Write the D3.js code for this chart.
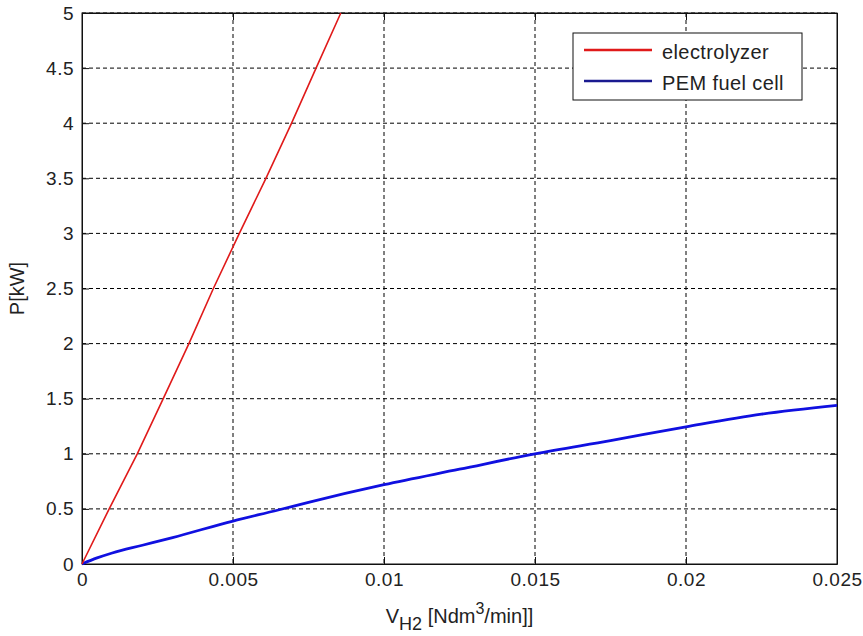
<!DOCTYPE html>
<html>
<head>
<meta charset="utf-8">
<script src="https://cdn.jsdelivr.net/npm/d3@7"></script>
<style>
  body { margin: 0; background: #fff; }
  text { font-family: "Liberation Sans", Arial, sans-serif; fill: #222; }
</style>
</head>
<body>
<div id="chart"></div>
<script>
// data
var xTicks = [0, 0.005, 0.01, 0.015, 0.02, 0.025];
var yTicks = [0, 0.5, 1, 1.5, 2, 2.5, 3, 3.5, 4, 4.5, 5];

var elecV = [0, 0.0009, 0.00183, 0.00269, 0.00354, 0.00435, 0.00521, 0.00609, 0.00694, 0.00775, 0.00857];
var elecP = [0, 0.5, 1, 1.5, 2, 2.5, 3, 3.5, 4, 4.5, 5];

var pemV = [0, 0.0005, 0.001, 0.002, 0.003, 0.005, 0.0065, 0.0075, 0.01, 0.0125, 0.015, 0.0175, 0.02, 0.0225, 0.025];
var pemP = [0, 0.055, 0.10, 0.17, 0.24, 0.39, 0.49, 0.56, 0.72, 0.86, 1.0, 1.12, 1.245, 1.36, 1.44];

var legendNames = ["electrolyzer", "PEM fuel cell"];
var legendColors = ["#e01a1a", "#1a1a90"];

var W = 863, H = 636;
var pLeft = 82, pRight = 837, pTop = 13, pBottom = 564;

const svg = d3.select("#chart")
  .append("svg")
  .attr("width", W)
  .attr("height", H);

var x = d3.scaleLinear().domain([0, 0.025]).range([pLeft, pRight]);
var y = d3.scaleLinear().domain([0, 5]).range([pBottom, pTop]);

// grid
var grid = svg.append("g");
grid.selectAll(".gx")
  .data(xTicks.slice(1, -1))
  .join("line")
  .attr("x1", d => x(d)).attr("x2", d => x(d))
  .attr("y1", pTop).attr("y2", pBottom)
  .attr("stroke", "#000").attr("stroke-dasharray", "4,3");
grid.selectAll(".gy")
  .data(yTicks.slice(1))
  .join("line")
  .attr("x1", pLeft).attr("x2", pRight)
  .attr("y1", d => y(d)).attr("y2", d => y(d))
  .attr("stroke", "#000").attr("stroke-dasharray", "4,3");

// axes with inward ticks
function fmt(d) { return d3.format("")(d); }
svg.append("g").attr("transform", "translate(0," + pBottom + ")")
  .call(d3.axisBottom(x).tickValues(xTicks).tickSizeInner(-7).tickSizeOuter(0).tickPadding(9).tickFormat(fmt));
svg.append("g").attr("transform", "translate(0," + pTop + ")")
  .call(d3.axisTop(x).tickValues(xTicks).tickSizeInner(-7).tickSizeOuter(0).tickFormat(""));
svg.append("g").attr("transform", "translate(" + pLeft + ",0)")
  .call(d3.axisLeft(y).tickValues(yTicks).tickSizeInner(-7).tickSizeOuter(0).tickPadding(8).tickFormat(fmt));
svg.append("g").attr("transform", "translate(" + pRight + ",0)")
  .call(d3.axisRight(y).tickValues(yTicks).tickSizeInner(-7).tickSizeOuter(0).tickFormat(""));

svg.selectAll(".domain").attr("stroke", "#111");
svg.selectAll(".tick line").attr("stroke", "#111");
svg.selectAll(".tick text")
  .attr("font-family", "Liberation Sans, Arial, sans-serif")
  .attr("font-size", 19)
  .attr("letter-spacing", "0.5px")
  .attr("fill", "#222");

// box
svg.append("rect")
  .attr("x", pLeft).attr("y", pTop)
  .attr("width", pRight - pLeft).attr("height", pBottom - pTop)
  .attr("fill", "none").attr("stroke", "#111");

// lines
var line = d3.line().x(d => x(d[0])).y(d => y(d[1]));
svg.append("path")
  .datum(pemV.map((v, i) => [v, pemP[i]]))
  .attr("d", line.curve(d3.curveMonotoneX))
  .attr("fill", "none")
  .attr("stroke", "#1010e0")
  .attr("stroke-width", 2.8);
svg.append("path")
  .datum(elecV.map((v, i) => [v, elecP[i]]))
  .attr("d", d3.line().x(d => x(d[0])).y(d => y(d[1])))
  .attr("fill", "none")
  .attr("stroke", "#e01a1a")
  .attr("stroke-width", 1.6);

// axis labels
svg.append("text")
  .attr("transform", "translate(24," + ((pTop + pBottom) / 2) + ") rotate(-90)")
  .attr("text-anchor", "middle")
  .attr("font-size", 20)
  .text("P[kW]");

var xl = svg.append("text")
  .attr("x", (pLeft + pRight) / 2)
  .attr("y", 623)
  .attr("text-anchor", "middle")
  .attr("font-size", 20);
xl.append("tspan").text("V");
xl.append("tspan").attr("dy", 7).attr("font-size", 18).text("H2");
xl.append("tspan").attr("dy", -7).text(" [Ndm");
xl.append("tspan").attr("dy", -9).attr("font-size", 16).text("3");
xl.append("tspan").attr("dy", 9).text("/min]]");

// legend
var lg = svg.append("g");
lg.append("rect")
  .attr("x", 573).attr("y", 33)
  .attr("width", 229).attr("height", 67)
  .attr("fill", "#fff").attr("stroke", "#111");
lg.selectAll("line.leg")
  .data(legendNames)
  .join("line")
  .attr("x1", 584).attr("x2", 652)
  .attr("y1", (d, i) => 50 + i * 31).attr("y2", (d, i) => 50 + i * 31)
  .attr("stroke", (d, i) => legendColors[i])
  .attr("stroke-width", 2.5);
lg.selectAll("text.leg")
  .data(legendNames)
  .join("text")
  .attr("x", 662)
  .attr("y", (d, i) => 59 + i * 31)
  .attr("font-size", 20)
  .attr("letter-spacing", "0.4px")
  .text(d => d);
</script>
</body>
</html>
